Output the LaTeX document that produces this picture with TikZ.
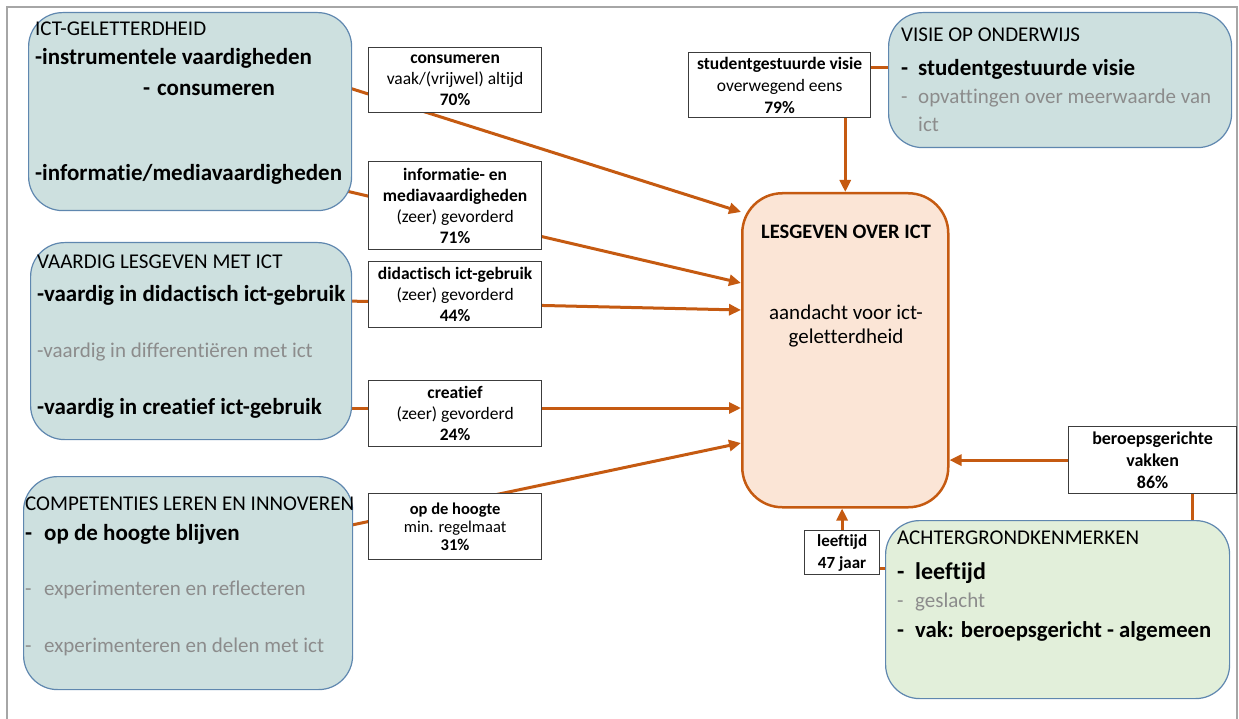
\documentclass[tikz,border=0pt]{standalone}
\usepackage{fontspec}
\setmainfont{Carlito}[Ligatures=NoCommon]
\usetikzlibrary{arrows.meta}
\definecolor{tealfill}{RGB}{205,224,223}
\definecolor{greenfill}{RGB}{226,239,218}
\definecolor{boxblue}{RGB}{95,135,175}
\definecolor{orfill}{RGB}{251,229,214}
\definecolor{ordark}{RGB}{197,90,17}
\definecolor{graytxt}{RGB}{140,140,140}
\definecolor{framegray}{RGB}{166,166,166}
\definecolor{lblborder}{RGB}{60,60,60}
\pgfdeclarelayer{bg}
\pgfsetlayers{bg,main}
\begin{document}
\begin{tikzpicture}[x=1pt,y=-1pt,
  bigbox/.style={draw=boxblue, line width=1.2pt, fill=tealfill, rounded corners=34pt, anchor=north west, inner sep=0pt},
  lbl/.style={draw=lblborder, line width=1.2pt, fill=white, anchor=north west, inner sep=0pt, align=center, font=\fontsize{17.5}{21}\selectfont},
  conn/.style={draw=ordark, line width=3pt},
  arr/.style={conn, -{Triangle[length=12pt,width=11pt]}},
  head/.style={inner sep=0pt, anchor=base west, font=\fontsize{21}{24}\selectfont},
  item/.style={inner sep=0pt, anchor=base west, font=\fontsize{23}{26}\selectfont\bfseries},
  gitem/.style={inner sep=0pt, anchor=base west, text=graytxt, font=\fontsize{21}{24}\selectfont}
]
\useasboundingbox (0,0) rectangle (1239,719);
\draw[framegray, line width=2pt] (7,740) -- (7,7) -- (1237,7) -- (1237,740);

% big boxes
\node[bigbox, minimum width=323pt, minimum height=198pt] (ict) at (28,12) {};
\node[bigbox, minimum width=321pt, minimum height=197pt] (vaar) at (30,242) {};
\node[bigbox, minimum width=329pt, minimum height=213pt] (comp) at (23,476) {};
\node[bigbox, minimum width=343pt, minimum height=135pt] (visie) at (888,12) {};
\node[bigbox, fill=greenfill, minimum width=344pt, minimum height=178pt] (ach) at (885,520) {};
\node[bigbox, draw=ordark, line width=2.5pt, fill=orfill, rounded corners=40pt, minimum width=206pt, minimum height=314pt] (les) at (741,192) {};

% texts in ICT box
\node[head] (t1) at (35,36) {ICT-GELETTERDHEID};
\node[item] (t2) at (35,64.5) {-instrumentele vaardigheden};
\node[item] (t3) at (143,95.5) {\makebox[14pt][l]{-}consumeren};
\node[item] (t4) at (35,180.5) {-informatie/mediavaardigheden};

% texts in VAARDIG box
\node[head] (v1) at (37,269) {VAARDIG LESGEVEN MET ICT};
\node[item] (v2) at (37,301.5) {-vaardig in didactisch ict-gebruik};
\node[gitem] (v3) at (37,357) {-vaardig in differentiëren met ict};
\node[item] (v4) at (37,414.5) {-vaardig in creatief ict-gebruik};

% texts in COMPETENTIES box
\node[head] (c1) at (25,510) {COMPETENTIES LEREN EN INNOVEREN};
\node[item] (c2) at (25,540.5) {\makebox[19pt][l]{-}op de hoogte blijven};
\node[gitem] (c3) at (25,595) {\makebox[19pt][l]{-}experimenteren en reflecteren};
\node[gitem] (c4) at (25,652) {\makebox[19pt][l]{-}experimenteren en delen met ict};

% texts in VISIE box
\node[head] (w1) at (901,42) {VISIE OP ONDERWIJS};
\node[item] (w2) at (901,75.5) {\makebox[17pt][l]{-}studentgestuurde visie};
\node[gitem] (w3) at (901,104) {\makebox[17pt][l]{-}opvattingen over meerwaarde van};
\node[gitem] (w4) at (918,132) {ict};

% texts in ACHTERGROND box
\node[head] (a1) at (897,544) {ACHTERGRONDKENMERKEN};
\node[item, font=\fontsize{24}{27}\selectfont\bfseries] (a2) at (897,579) {\makebox[18pt][l]{-}leeftijd};
\node[gitem] (a3) at (897,607) {\makebox[18pt][l]{-}geslacht};
\node[item, font=\fontsize{22.7}{26}\selectfont\bfseries] (a4) at (897,637.5) {\makebox[18pt][l]{-}vak: beroepsgericht - algemeen};

% texts in LESGEVEN box
\node[inner sep=0pt, anchor=base, font=\fontsize{20.5}{24}\selectfont\bfseries] (l1) at (846,239) {LESGEVEN OVER ICT};
\node[inner sep=0pt, anchor=base, font=\fontsize{21}{24}\selectfont] (l2) at (846,319) {aandacht voor ict-};
\node[inner sep=0pt, anchor=base, font=\fontsize{21}{24}\selectfont] (l3) at (846,343) {geletterdheid};

% label boxes
\node[lbl, minimum width=173pt, minimum height=65pt] (lcons) at (368,47) {\textbf{consumeren}\\vaak/(vrijwel) altijd\\\textbf{70\%}};
\node[lbl, minimum width=173pt, minimum height=88pt] (linfo) at (368,161) {\textbf{informatie- en}\\\textbf{mediavaardigheden}\\(zeer) gevorderd\\\textbf{71\%}};
\node[lbl, minimum width=173pt, minimum height=66pt] (ldid) at (368,261) {\textbf{didactisch ict-gebruik}\\(zeer) gevorderd\\\textbf{44\%}};
\node[lbl, minimum width=173pt, minimum height=66pt] (lcre) at (368,380) {\textbf{creatief}\\(zeer) gevorderd\\\textbf{24\%}};
\node[lbl, minimum width=173pt, minimum height=66pt, font=\fontsize{16.5}{18}\selectfont] (lhoog) at (368,493) {\textbf{op de hoogte}\\min. regelmaat\\\textbf{31\%}};
\node[lbl, minimum width=182pt, minimum height=65pt, font=\fontsize{17.5}{22}\selectfont] (lsv) at (688,52) {\textbf{studentgestuurde visie}\\overwegend eens\\\textbf{79\%}};
\node[lbl, minimum width=168pt, minimum height=67pt, font=\fontsize{18}{22}\selectfont\bfseries] (lber) at (1068,426) {beroepsgerichte\\vakken\\86\%};
\node[lbl, minimum width=75pt, minimum height=44pt, font=\fontsize{17}{22}\selectfont\bfseries] (lleef) at (804,530) {leeftijd\\47 jaar};

% connectors
\begin{pgfonlayer}{bg}
\draw[arr] ([xshift=-6pt]ict.east |- 0,87) -- (les.west |- 0,212);
\draw[arr] ([xshift=-6pt]ict.east |- 0,191) -- (les.west |- 0,283);
\draw[arr] ([xshift=-6pt]vaar.east |- 0,301) -- (les.west |- 0,310);
\draw[arr] ([xshift=-6pt]vaar.east |- 0,408) -- (les.west |- 0,408);
\draw[arr] ([xshift=-6pt]comp.east |- 0,526) -- (les.west |- 0,443);
\draw[conn] (visie.west |- 0,68) -- (lsv.east |- 0,68);
\draw[arr] (les.north |- lsv.south) -- (les.north);
\draw[conn] (ach.north -| 1192,0) -- (lber.south -| 1192,0);
\draw[arr] (lber.west) -- (les.east |- lber.west);
\draw[conn] (ach.west |- 0,568) -- (lleef.east |- 0,568);
\draw[arr] (lleef.north) -- (lleef.north |- les.south);
\end{pgfonlayer}
\end{tikzpicture}
\end{document}
